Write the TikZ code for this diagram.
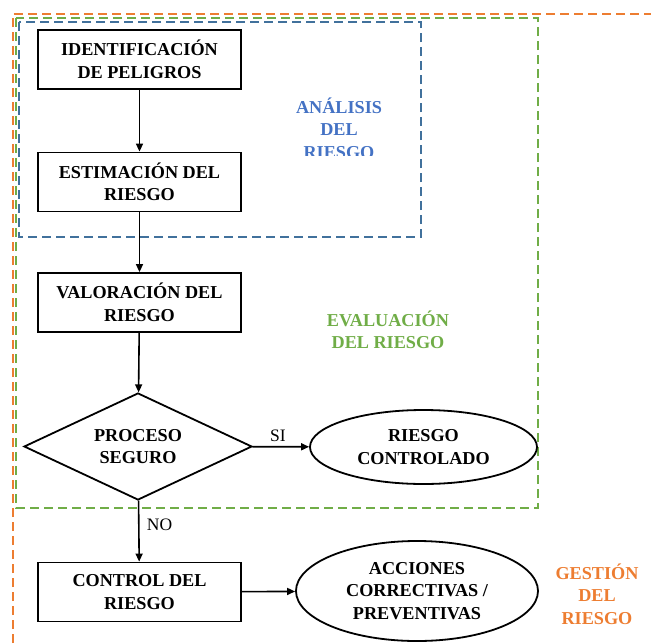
\documentclass[tikz,border=0pt]{standalone}
\usepackage{fontspec}
\setmainfont{Liberation Serif}
\usetikzlibrary{shapes.geometric,arrows.meta}
\definecolor{anblue}{HTML}{4472C4}
\definecolor{frblue}{HTML}{41719C}
\definecolor{evgreen}{HTML}{70AD47}
\definecolor{georange}{HTML}{ED7D31}
\begin{document}
\begin{tikzpicture}[x=1pt,y=-1pt,
  stepbox/.style={draw,line width=1.8pt,minimum width=203pt,minimum height=59pt,
    align=center,font=\fontsize{18.2}{22.5}\selectfont\bfseries},
  decision/.style={draw,diamond,aspect=2.13,line width=1.8pt,minimum width=228pt,minimum height=107pt,
    inner sep=0pt,align=center,font=\fontsize{18.2}{22.5}\selectfont\bfseries},
  outcome/.style={draw,ellipse,line width=1.8pt,inner sep=0pt,align=center,
    font=\fontsize{18.2}{22.5}\selectfont\bfseries},
  frame/.style={dash pattern=on 9pt off 5pt,line width=1.6pt},
  flow/.style={line width=1.6pt,-{Triangle[length=8pt,width=7pt]}},
  zone/.style={align=center,font=\fontsize{18.2}{22.5}\selectfont\bfseries},
  tag/.style={font=\fontsize{17.5}{19}\selectfont}]
\useasboundingbox (0,0) rectangle (651,643);

% dashed frames of the three stages
\draw[frame,georange] (13,643) -- (13,14) -- (651,14);
\draw[frame,evgreen] (16,18) rectangle (538,508);
\draw[frame,frblue] (19,22) rectangle (421,237);

% flow steps
\node[stepbox] (ident) at (139.5,59.5) {IDENTIFICACIÓN\\DE PELIGROS};
\node[stepbox] (estim) at (139.5,182) {ESTIMACIÓN DEL\\RIESGO};
\node[stepbox] (valor) at (139.5,302.5) {VALORACIÓN DEL\\RIESGO};
\node[decision] (seguro) at (138,446.5) {PROCESO\\SEGURO};
\node[outcome,minimum width=227pt,minimum height=74pt] (contr) at (423.5,447) {RIESGO\\CONTROLADO};
\node[stepbox] (control) at (139.5,592) {CONTROL DEL\\RIESGO};
\node[outcome,minimum width=242pt,minimum height=100pt] (acc) at (417,591) {ACCIONES\\CORRECTIVAS /\\PREVENTIVAS};

% connectors
\draw[flow] (ident) -- (estim);
\draw[flow] (estim) -- (valor);
\draw[flow] (valor) -- (seguro);
\draw[flow] (seguro) -- (contr) node[tag,pos=0.45,above=1pt] {SI};
\draw[flow] (seguro) -- (control) node[tag,pos=0.4,right=4pt] {NO};
\draw[flow] (control) -- (acc);

% stage labels
\begin{scope}
  \clip (250,80) rectangle (420,155);
  \node[zone,text=anblue] (lanal) at (339,128) {ANÁLISIS\\DEL\\RIESGO};
\end{scope}
\node[zone,text=evgreen] (leval) at (388,330) {EVALUACIÓN\\DEL RIESGO};
\node[zone,text=georange] (lgest) at (597,594) {GESTIÓN\\DEL\\RIESGO};
\end{tikzpicture}
\end{document}
